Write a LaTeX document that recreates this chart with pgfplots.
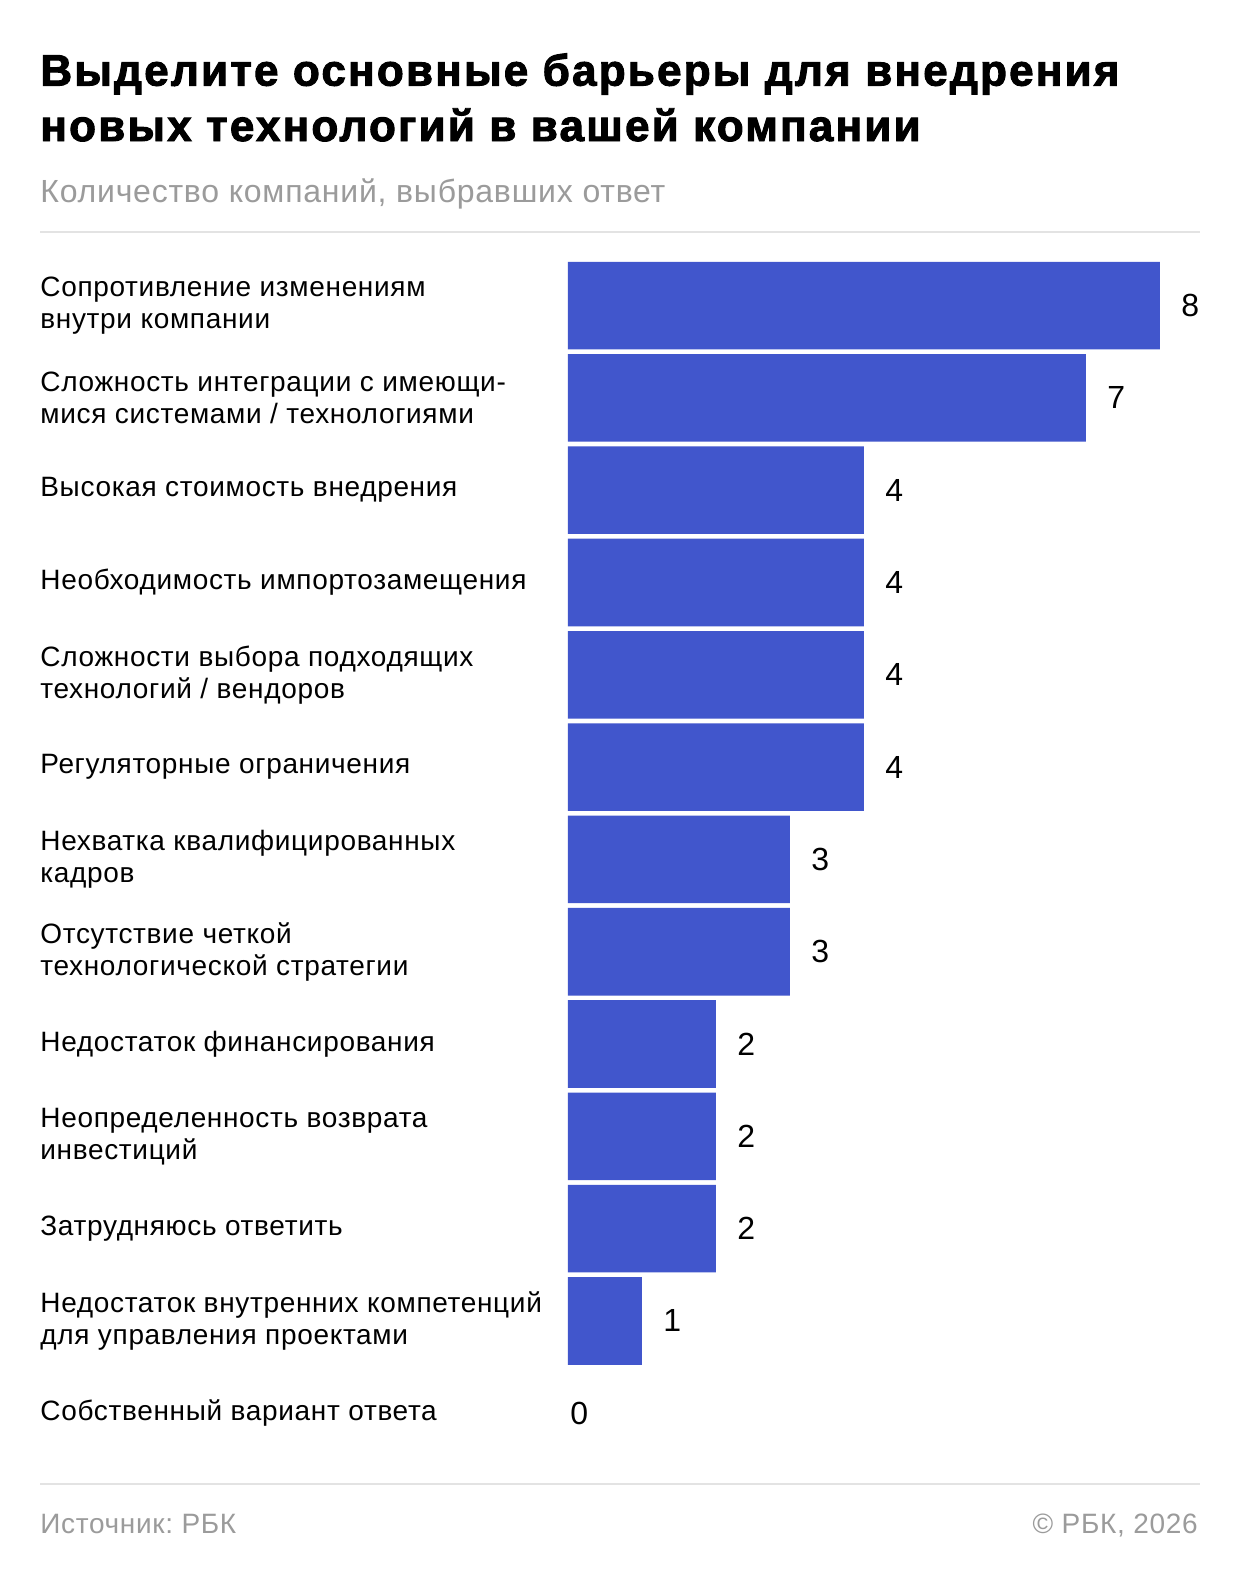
\documentclass[border=0pt]{standalone}
\usepackage{pgfplots}
\pgfplotsset{compat=1.18}
\usepackage{fontspec}
\setmainfont{Liberation Sans}
\newfontfamily\titlefont{Liberation Sans}[UprightFont=*-Bold, FakeBold=2.2, LetterSpace=5]
\newfontfamily\labelfont{Liberation Sans}[LetterSpace=2.4]
\frenchspacing

\definecolor{barblue}{HTML}{4156CC}
\definecolor{subgray}{HTML}{9B9B9B}
\definecolor{rulegray}{HTML}{E3E3E3}

\begin{document}
\begin{tikzpicture}
	% page: 1 px of the reference = 0.5pt, origin at the top left
	\path[fill=white] (0,0) rectangle (620pt,-790pt);

	\node[anchor=base west, inner sep=0,
		font=\titlefont\fontsize{22}{27.5}\selectfont] at (20pt,-42.8pt)
		{Выделите основные барьеры для внедрения};
	\node[anchor=base west, inner sep=0,
		font=\titlefont\fontsize{22}{27.5}\selectfont] at (20pt,-70.5pt)
		{новых технологий в вашей компании};
	\node[anchor=base west, inner sep=0, text=subgray,
		font=\labelfont\fontsize{16}{19}\selectfont] at (20pt,-101.3pt)
		{Количество компаний, выбравших ответ};

	\draw[rulegray, line width=1pt] (20pt,-116pt) -- (600pt,-116pt);
	\draw[rulegray, line width=1pt] (20pt,-742pt) -- (600pt,-742pt);

	\node[anchor=base west, inner sep=0, text=subgray,
		font=\labelfont\fontsize{14}{17}\selectfont] at (20pt,-766.5pt) {Источник: РБК};
	\node[anchor=base east, inner sep=0, text=subgray,
		font=\labelfont\fontsize{14}{17}\selectfont] at (599pt,-766.5pt) {© РБК, 2026};

	\begin{axis}[
		at={(284pt,-129.7pt)}, anchor=north west,
		scale only axis,
		width=296pt, height=600pt,
		xmin=0, xmax=8,
		ymin=-0.5, ymax=12.5,
		y dir=reverse,
		axis lines*=left,
		axis line style={draw=none},
		tick style={draw=none},
		major tick length=0pt,
		xtick=\empty,
		ytick={0,...,12},
		yticklabels={
			{Сопротивление изменениям\\внутри компании},
			{Сложность интеграции с имеющи-\\мися системами / технологиями},
			{Высокая стоимость внедрения},
			{Необходимость импортозамещения},
			{Сложности выбора подходящих\\технологий / вендоров},
			{Регуляторные ограничения},
			{Нехватка квалифицированных\\кадров},
			{Отсутствие четкой\\технологической стратегии},
			{Недостаток финансирования},
			{Неопределенность возврата\\инвестиций},
			{Затрудняюсь ответить},
			{Недостаток внутренних компетенций\\для управления проектами},
			{Собственный вариант ответа}
		},
		yticklabel style={anchor=west, inner sep=0, xshift=-264pt, align=left,
			font=\labelfont\fontsize{14}{16}\selectfont},
		/pgf/number format/assume math mode=true,
		xbar, bar width=0.949, bar shift=0pt,
		point meta=x,
		nodes near coords,
		every node near coord/.append style={anchor=west, inner sep=0,
			font=\fontsize{16}{18}\selectfont},
		clip=false
	]
		\addplot[fill=barblue, draw=none,
			every node near coord/.append style={xshift=10.5pt}] coordinates {
			(8,0) (7,1) (4,2) (4,3) (4,4) (4,5) (3,6) (3,7) (2,8) (2,9) (2,10) (1,11)
		};
		\addplot[fill=none, draw=none,
			every node near coord/.append style={xshift=1pt}] coordinates {
			(0,12)
		};
	\end{axis}

	\pgfresetboundingbox
	\useasboundingbox (0,0) rectangle (620pt,-790pt);
\end{tikzpicture}
\end{document}
